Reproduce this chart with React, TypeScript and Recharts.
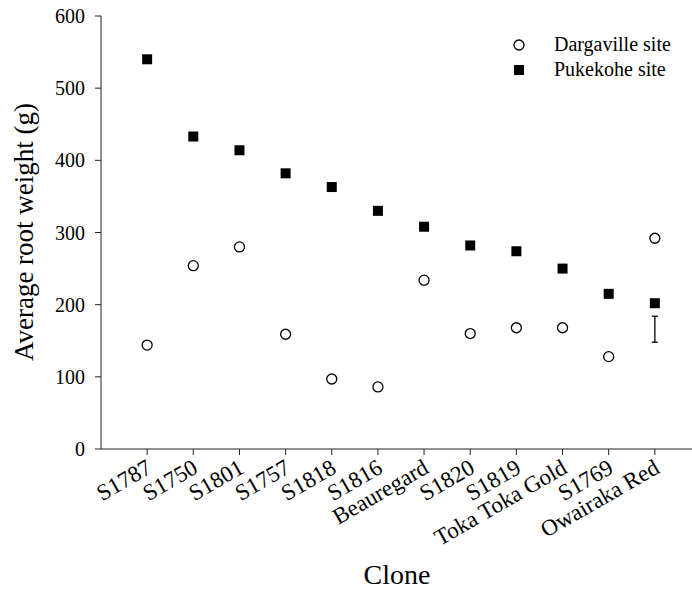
import {
  ErrorBar,
  Label,
  Scatter,
  ScatterChart,
  XAxis,
  YAxis,
} from "recharts";

const clones = [
  "S1787",
  "S1750",
  "S1801",
  "S1757",
  "S1818",
  "S1816",
  "Beauregard",
  "S1820",
  "S1819",
  "Toka Toka Gold",
  "S1769",
  "Owairaka Red",
];

const dargaville = [144, 254, 280, 159, 97, 86, 234, 160, 168, 168, 128, 292];
const pukekohe = [540, 433, 414, 382, 363, 330, 308, 282, 274, 250, 215, 202];

// LSD bar drawn at the last clone
const lsdCenter = 166;
const lsdHalf = 18;

const yTicks = [0, 100, 200, 300, 400, 500, 600];

const FONT = "Liberation Serif";
const AXIS = "#222";

const dargavilleData = dargaville.map((v, i) => ({ x: i + 1, y: v }));
const pukekoheData = pukekohe.map((v, i) => ({ x: i + 1, y: v }));
const lsdData = [{ x: clones.length, y: lsdCenter, err: lsdHalf }];

const CloneTick = ({ x, y, payload }: any) => (
  <text
    x={x + 6}
    y={y + 15}
    transform={`rotate(-30, ${x + 6}, ${y + 15})`}
    textAnchor="end"
    style={{ fontFamily: FONT, fontSize: 23 }}
    fill="#000"
  >
    {clones[payload.value - 1]}
  </text>
);

const WeightTick = ({ x, y, payload }: any) => (
  <text
    x={x}
    y={y + 7}
    textAnchor="end"
    style={{ fontFamily: FONT, fontSize: 20 }}
    fill="#000"
  >
    {payload.value}
  </text>
);

const Circle = ({ cx, cy }: any) => (
  <circle cx={cx} cy={cy} r={5} fill="#fff" stroke="#000" strokeWidth={1.3} />
);

const Square = ({ cx, cy }: any) => (
  <rect x={cx - 5} y={cy - 5} width={10} height={10} fill="#000" />
);

const Legend = () => (
  <div
    style={{
      position: "absolute",
      left: 512,
      top: 32,
      fontFamily: FONT,
      fontSize: 20,
      lineHeight: "25px",
      color: "#000",
    }}
  >
    <div style={{ display: "flex", alignItems: "center" }}>
      <svg width={42} height={25}>
        <circle cx={7} cy={13} r={5} fill="#fff" stroke="#000" strokeWidth={1.3} />
      </svg>
      Dargaville site
    </div>
    <div style={{ display: "flex", alignItems: "center" }}>
      <svg width={42} height={25}>
        <rect x={2} y={8} width={10} height={10} fill="#000" />
      </svg>
      Pukekohe site
    </div>
  </div>
);

export default function App() {
  return (
    <div
      style={{
        position: "absolute",
        left: 0,
        top: 0,
        width: 692,
        height: 615,
        overflow: "hidden",
        background: "#fff",
        fontFamily: FONT,
      }}
    >
      <ScatterChart
        width={720}
        height={615}
        margin={{ top: 16, right: 19, bottom: 46, left: 0 }}
        style={{ fontFamily: FONT }}
      >
        <XAxis
          xAxisId="top"
          orientation="top"
          type="number"
          dataKey="x"
          domain={[0, 13]}
          height={0}
          tick={false}
          tickLine={false}
          stroke={AXIS}
        />
        <XAxis
          type="number"
          dataKey="x"
          domain={[0, 13]}
          ticks={clones.map((_, i) => i + 1)}
          interval={0}
          height={120}
          tick={<CloneTick />}
          stroke={AXIS}
          tickSize={6}
        >
          <Label
            content={({ viewBox }: any) => (
              <text
                x={viewBox.x + viewBox.width / 2 - 4}
                y={584}
                textAnchor="middle"
                style={{ fontFamily: FONT, fontSize: 28 }}
                fill="#000"
              >
                Clone
              </text>
            )}
          />
        </XAxis>
        <YAxis
          type="number"
          dataKey="y"
          domain={[0, 600]}
          ticks={yTicks}
          width={101}
          stroke={AXIS}
          tickSize={6}
          tick={<WeightTick />}
          tickMargin={10}
        >
          <Label
            content={() => (
              <text
                x={33}
                y={232}
                transform="rotate(-90, 33, 232)"
                textAnchor="middle"
                style={{ fontFamily: FONT, fontSize: 27 }}
                fill="#000"
              >
                Average root weight (g)
              </text>
            )}
          />
        </YAxis>
        <Scatter
          name="Dargaville site"
          data={dargavilleData}
          shape={<Circle />}
          isAnimationActive={false}
        />
        <Scatter
          name="Pukekohe site"
          data={pukekoheData}
          shape={<Square />}
          isAnimationActive={false}
        />
        <Scatter
          name="LSD"
          data={lsdData}
          shape={() => <g />}
          isAnimationActive={false}
        >
          <ErrorBar
            dataKey="err"
            direction="y"
            width={3}
            stroke="#000"
            strokeWidth={1.3}
            isAnimationActive={false}
          />
        </Scatter>
      </ScatterChart>
      <Legend />
    </div>
  );
}
